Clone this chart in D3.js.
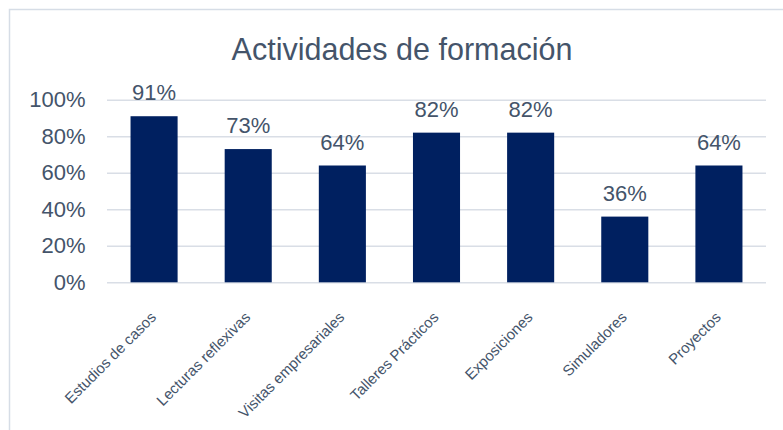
<!DOCTYPE html>
<html>
<head>
<meta charset="utf-8">
<script src="https://cdn.jsdelivr.net/npm/d3@7"></script>
<style>
  html, body { margin: 0; padding: 0; background: #ffffff; }
  svg { display: block; font-family: "Liberation Sans", Arial, sans-serif; }
</style>
</head>
<body>
<svg id="chart" width="783" height="430"></svg>
<script>
const categories = ["Estudios de casos", "Lecturas reflexivas", "Visitas empresariales", "Talleres Prácticos", "Exposiciones", "Simuladores", "Proyectos"];
const values = [0.91, 0.73, 0.64, 0.82, 0.82, 0.36, 0.64];
const yTicks = [0, 0.2, 0.4, 0.6, 0.8, 1.0];
const title = "Actividades de formación";

const textColor = "#44546A";
const barColor = "#002060";
const gridColor = "#D9DEE6";

const svg = d3.select("#chart");

// frame
svg.append("path")
  .attr("d", "M9.5,430 L9.5,9.5 L783,9.5")
  .attr("fill", "none")
  .attr("stroke", "#D6DDE6")
  .attr("stroke-width", 1.5);

const x = d3.scaleBand()
  .domain(categories)
  .range([107, 766])
  .paddingInner(0.5)
  .paddingOuter(0.25);

const y = d3.scaleLinear()
  .domain([0, 1])
  .range([282.3, 99.8]);

// title
svg.append("text")
  .attr("x", 402)
  .attr("y", 59.5)
  .attr("text-anchor", "middle")
  .attr("fill", textColor)
  .attr("font-size", 30.5)
  .text(title);

// gridlines + y axis
const yAxis = d3.axisLeft(y)
  .tickValues(yTicks)
  .tickSize(-(766 - 107))
  .tickPadding(21.5)
  .tickFormat(d3.format(".0%"));

const gy = svg.append("g")
  .attr("transform", "translate(107,0)")
  .call(yAxis);
gy.select(".domain").remove();
gy.selectAll(".tick line")
  .attr("stroke", gridColor)
  .attr("stroke-width", 1.5);
gy.selectAll(".tick text")
  .attr("fill", textColor)
  .attr("font-size", 22)
  .attr("font-family", "Liberation Sans, Arial, sans-serif");

// bars
svg.append("g").selectAll("rect")
  .data(values)
  .join("rect")
  .attr("x", (d, i) => x(categories[i]))
  .attr("y", d => y(d))
  .attr("width", x.bandwidth())
  .attr("height", d => y(0) - y(d))
  .attr("fill", barColor);

// data labels
svg.append("g").selectAll("text")
  .data(values)
  .join("text")
  .attr("x", (d, i) => x(categories[i]) + x.bandwidth() / 2)
  .attr("y", d => y(d) - 16)
  .attr("text-anchor", "middle")
  .attr("fill", textColor)
  .attr("font-size", 22)
  .text(d => d3.format(".0%")(d));

// x axis labels (rotated)
const xAxis = d3.axisBottom(x).tickSize(0).tickPadding(0);
const gx = svg.append("g")
  .attr("transform", "translate(0,282.3)")
  .call(xAxis);
gx.select(".domain").remove();
gx.selectAll(".tick text")
  .attr("fill", textColor)
  .attr("font-size", 15)
  .attr("font-family", "Liberation Sans, Arial, sans-serif")
  .attr("text-anchor", "end")
  .attr("dy", null)
  .attr("y", 0)
  .attr("transform", "translate(3,36) rotate(-45)");
</script>
</body>
</html>
